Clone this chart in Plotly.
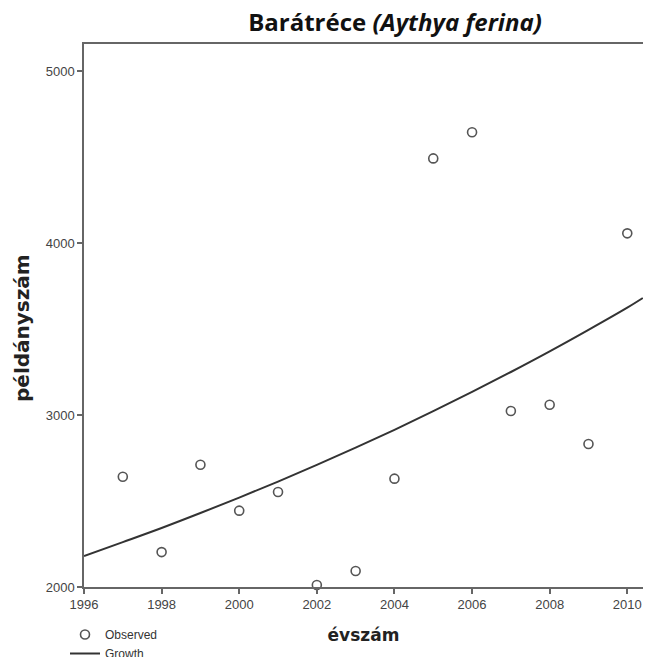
import plotly.graph_objects as go

years = [1997, 1998, 1999, 2000, 2001, 2002, 2003, 2004, 2005, 2006, 2007, 2008, 2009, 2010]
observed = [2641, 2203, 2711, 2444, 2552, 2012, 2093, 2630, 4492, 4644, 3023, 3060, 2831, 4056]

# Growth curve values
growth_years = [1996, 1997, 1998, 1999, 2000, 2001, 2002, 2003, 2004, 2005, 2006, 2007, 2008, 2009, 2010, 2010.4]
growth_vals = [2180, 2261, 2343, 2430, 2520, 2613, 2710, 2810, 2914, 3022, 3134, 3250, 3370, 3495, 3624, 3680]

x_ticks = [1996, 1998, 2000, 2002, 2004, 2006, 2008, 2010]
y_ticks = [2000, 3000, 4000, 5000]

title_text = "<b>Barátréce <i>(Aythya ferina)</i></b>"
x_title = "évszám"
y_title = "példányszám"

W, H = 635, 649  # page body has an 8px margin
ML, MR, MT, MB = 76, 0, 36, 70
PW, PH = W - ML - MR, H - MT - MB

fig = go.Figure()
fig.add_trace(go.Scatter(
    x=years, y=observed, mode="markers", name="Observed",
    marker=dict(symbol="circle-open", size=9, color="#555555", line=dict(width=1.6, color="#555555")),
    cliponaxis=False,
))
fig.add_trace(go.Scatter(
    x=growth_years, y=growth_vals, mode="lines", name="Growth",
    line=dict(color="#333333", width=2, shape="spline"),
))

axis_common = dict(
    showgrid=False, zeroline=False, showline=True, linecolor="#666666", linewidth=1.5,
    ticks="outside", ticklen=5, tickcolor="#666666", tickwidth=1.5,
    tickfont=dict(family="Liberation Sans, Arial", size=13, color="#444444"),
)

fig.update_layout(
    width=W, height=H,
    margin=dict(l=ML, r=MR, t=MT, b=MB, autoexpand=False),
    paper_bgcolor="white", plot_bgcolor="white",
    title=dict(text=title_text, x=387 / W, xanchor="center", y=1 - 15 / H, yanchor="middle",
               xref="container", yref="container",
               font=dict(family="Open Sans, Lato", size=24, color="#111111")),
    xaxis=dict(range=[1996, 2010.405], tickvals=x_ticks, mirror=True,
               title=dict(text=x_title, standoff=18,
                          font=dict(family="DejaVu Sans", size=17, color="#222222", weight="bold")),
               **axis_common),
    yaxis=dict(range=[2000, 5157], tickvals=y_ticks, mirror=True, **axis_common),
    annotations=[dict(
        text="<b>" + y_title + "</b>", textangle=-90, showarrow=False,
        xref="paper", yref="paper", x=(14 - ML) / PW, y=1 - (320 - MT) / PH,
        xanchor="center", yanchor="middle",
        font=dict(family="DejaVu Sans", size=20, color="#222222"),
    )],
    showlegend=True,
    legend=dict(xref="paper", yref="paper", x=(57 - ML) / PW, xanchor="left",
                y=1 - (612 - MT) / PH, yanchor="top",
                font=dict(family="Liberation Sans, Arial", size=12, color="#333333"),
                bgcolor="rgba(0,0,0,0)", itemwidth=30, tracegroupgap=0),
)

fig.write_html("out.html")
